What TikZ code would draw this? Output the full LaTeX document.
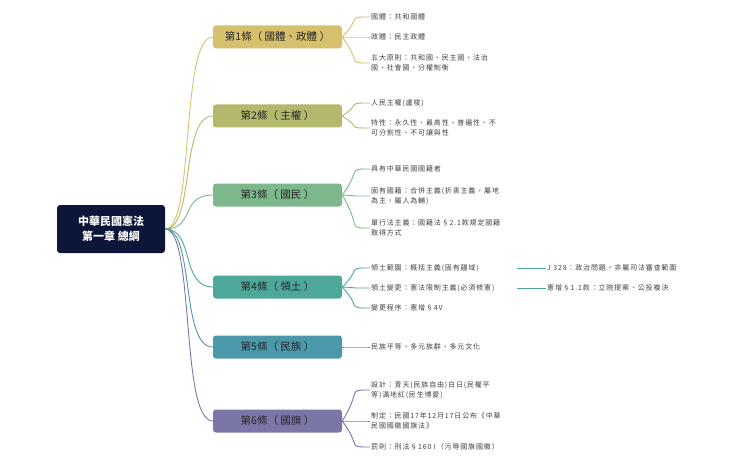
\documentclass[tikz,border=0pt]{standalone}
\usepackage{fontspec}
\setmainfont{Noto Sans CJK TC}
\begin{document}
\begin{tikzpicture}[x=1pt,y=-1pt,
 br/.style={draw=none,fill=#1,rounded corners=3pt,minimum width=129pt,minimum height=23pt,font=\fontsize{10.5}{12}\selectfont,text=black!85},
 lf/.style={anchor=west,font=\fontsize{7}{10.5}\selectfont\addfontfeature{LetterSpace=12},text=black!75,align=left,inner sep=1pt},
 cn/.style={draw=#1,line width=0.9pt}]
\useasboundingbox (0,0) rectangle (751,465);
\definecolor{c1}{HTML}{D6C06E}\definecolor{c2}{HTML}{B3B86C}\definecolor{c3}{HTML}{7DB88C}
\definecolor{c4}{HTML}{4EA89A}\definecolor{c5}{HTML}{4B98AA}\definecolor{c6}{HTML}{7B76A8}
\node[fill={rgb,255:red,12;green,22;blue,56},rounded corners=3pt,minimum width=108pt,minimum height=48pt,text=white,align=center,font=\fontsize{11}{15}\selectfont\bfseries] (root) at (111,229) {中華民國憲法\\第一章\ 總綱};
\foreach \n/\y/\t in {1/37/{第1條（ 國體、政體 ）},2/116/{第2條（ 主權 ）},3/195/{第3條（ 國民 ）},4/287/{第4條（ 領土 ）},5/347/{第5條（ 民族 ）},6/421/{第6條（ 國旗 ）}}{
 \node[br=c\n] (b\n) at (277.5,\y) {\t};
 \draw[cn=c\n] (root.east) .. controls (195,229) and (180,\y) .. (b\n.west);
}
\foreach \nm/\b/\y/\c/\t in {
 a1/b1/17/c1/{國體：共和國體},a2/b1/37/c1/{政體：民主政體},a3/b1/63/c1/{五大原則：共和國、民主國、法治\\國、社會國、分權制衡},
 d1/b2/103/c2/{人民主權(盧梭)},d2/b2/128/c2/{特性：永久性、最高性、普遍性、不\\可分割性、不可讓與性},
 e1/b3/169/c3/{具有中華民國國籍者},e2/b3/196/c3/{固有國籍：合併主義(折衷主義，屬地\\為主，屬人為輔)},e3/b3/228/c3/{單行法主義：國籍法§2.1款規定國籍\\取得方式},
 f1/b4/268/c4/{領土範圍：概括主義(固有疆域)},f2/b4/288/c4/{領土變更：憲法限制主義(必須修憲)},f3/b4/308/c4/{變更程序：憲增§4V},
 g1/b5/347/c5/{民族平等、多元族群、多元文化},
 h1/b6/390/c6/{設計：青天(民族自由)白日(民權平\\等)滿地紅(民生博愛)},h2/b6/421/c6/{制定：民國17年12月17日公布《中華\\民國國徽國旗法》},h3/b6/447/c6/{罰則：刑法§160 I（污辱國旗國徽）}}{
 \node[lf] (\nm) at (370,\y) {\t};
 \draw[cn=\c] (\b.east) .. controls (362,\y) and (346,\y) .. (\nm.west);
}
\node[lf] (k1) at (546,268) {J 328：政治問題，非屬司法審查範圍};
\node[lf] (k2) at (546,288) {憲增§1.1款：立院提案、公投複決};
\coordinate (s1) at (517,268);
\coordinate (s2) at (517,288);
\draw[cn=c4] (s1) -- (k1.west);
\draw[cn=c4] (s2) -- (k2.west);
\end{tikzpicture}
\end{document}
